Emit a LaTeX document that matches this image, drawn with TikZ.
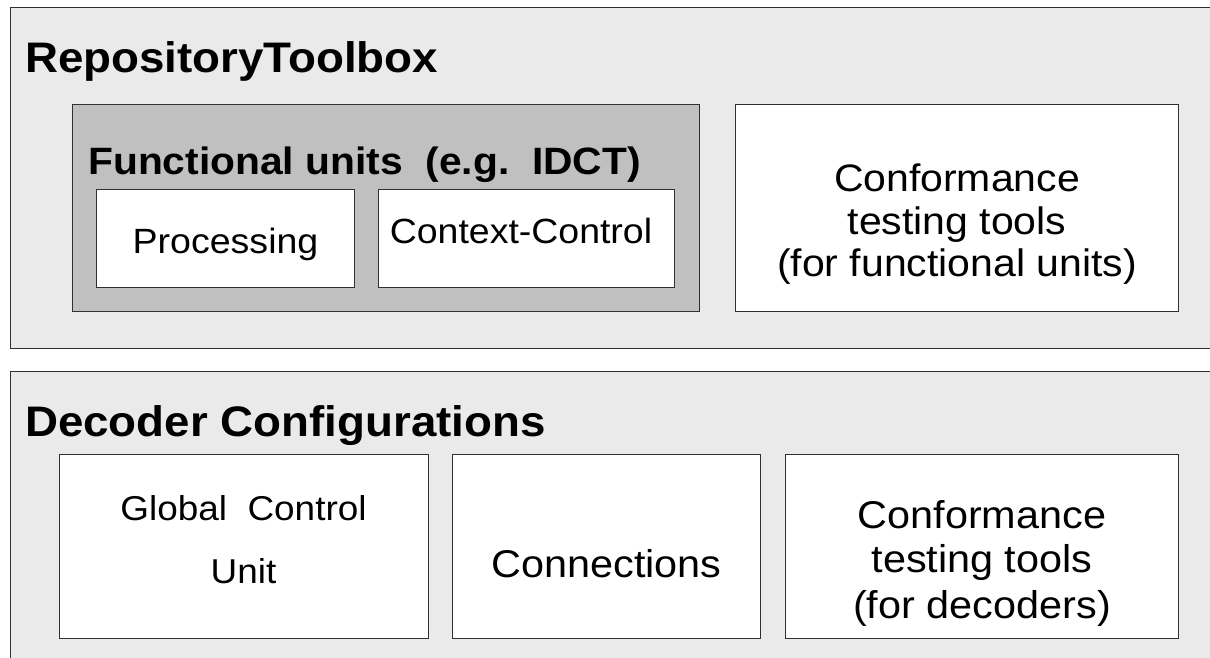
\documentclass[tikz,border=0pt]{standalone}
\usepackage{fontspec}
\setmainfont{Liberation Sans}[FakeStretch=1.07]
\definecolor{panelfill}{HTML}{EAEAEA}
\definecolor{unitfill}{HTML}{C0C0C0}
\definecolor{edge}{HTML}{303030}
\newcommand{\sz}[2]{\fontsize{#1}{#2}\selectfont}
\begin{document}
\begin{tikzpicture}[x=1pt,y=-1pt,
  panel/.style={draw=edge, line width=1.4pt, fill=panelfill, anchor=north west, inner sep=0pt},
  unitbox/.style={draw=edge, line width=1.4pt, fill=unitfill, anchor=north west, inner sep=0pt},
  cell/.style={draw=edge, line width=1.4pt, fill=white, anchor=north west, inner sep=0pt},
  head/.style={anchor=base west, inner sep=0pt, font=\sz{42.7}{46}\bfseries},
  subhead/.style={anchor=base west, inner sep=0pt, font=\sz{38.1}{42}\bfseries},
  txt/.style={anchor=base, inner sep=0pt}]
\fill[white] (0,0) rectangle (1210,658);
\useasboundingbox (0,0) rectangle (1210,658);
\clip (0,0) rectangle (1210,658);

% upper panel: repository toolbox
\node[panel, minimum width=1210pt, minimum height=341pt] (repo) at (10,7) {};
\node[head] (repoT) at (25,73) {RepositoryToolbox};
\node[unitbox, minimum width=627pt, minimum height=207pt] (fu) at (72,104) {};
\node[subhead] (fuT) at (88,175) {Functional units\ \ (e.g.\ \ IDCT)};
\node[cell, minimum width=258pt, minimum height=98pt] (proc) at (96,189) {};
\node[txt, font=\sz{35.1}{40}] (procT) at (225.5,253) {Processing};
\node[cell, minimum width=296pt, minimum height=98pt] (ctx) at (378,189) {};
\node[txt, font=\sz{35}{40}] (ctxT) at (521,243) {Context-Control};
\node[cell, minimum width=443pt, minimum height=207pt] (ctu) at (735,104) {};
\node[txt, font=\sz{38.3}{42}] (ctu1) at (957,191) {Conformance};
\node[txt, font=\sz{38.3}{42}] (ctu2) at (957,234) {testing tools};
\node[txt, font=\sz{38.3}{42}] (ctu3) at (957,276) {(for functional units)};

% lower panel: decoder configurations
\node[panel, minimum width=1210pt, minimum height=320pt] (dec) at (10,371) {};
\node[head] (decT) at (25,436) {Decoder Configurations};
\node[cell, minimum width=369pt, minimum height=184pt] (gcu) at (59,454) {};
\node[txt, font=\sz{34.5}{40}] (gcu1) at (243.5,520) {Global\ \ Control};
\node[txt, font=\sz{34.5}{40}] (gcu2) at (243.5,583) {Unit};
\node[cell, minimum width=308pt, minimum height=184pt] (conn) at (452,454) {};
\node[txt, font=\sz{38.7}{44}] (connT) at (606.5,577) {Connections};
\node[cell, minimum width=393pt, minimum height=184pt] (ctd) at (785,454) {};
\node[txt, font=\sz{38.7}{44}] (ctd1) at (982,528) {Conformance};
\node[txt, font=\sz{38.7}{44}] (ctd2) at (982,572) {testing tools};
\node[txt, font=\sz{38.7}{44}] (ctd3) at (982,618) {(for decoders)};
\end{tikzpicture}
\end{document}
